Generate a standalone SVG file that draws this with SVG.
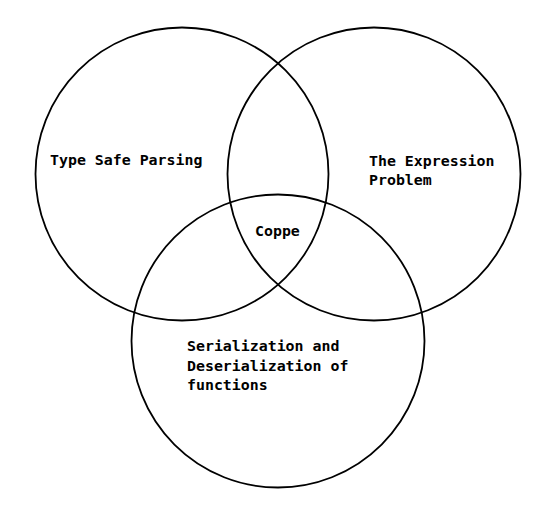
<svg xmlns="http://www.w3.org/2000/svg" width="559" height="512" viewBox="0 0 559 512">
<style>
.c{fill:none;stroke:#000;stroke-width:1.8}
.t{font-family:"DejaVu Sans Mono","Liberation Mono",monospace;font-size:14.9px;font-weight:bold;fill:#000}
</style>
<rect width="559" height="512" fill="#fff"/>
<g id="circle-left"><circle class="c" cx="182" cy="174" r="146.5"/><text class="t" x="50" y="165">Type Safe Parsing</text></g>
<g id="circle-right"><circle class="c" cx="374" cy="174" r="146.5"/><text class="t" x="369" y="166">The Expression</text><text class="t" x="369" y="185">Problem</text></g>
<g id="circle-bottom"><circle class="c" cx="278" cy="341" r="146.5"/><text class="t" x="187" y="351">Serialization and</text><text class="t" x="187" y="371">Deserialization of</text><text class="t" x="187" y="390">functions</text></g>
<g id="center"><text class="t" x="255" y="236">Coppe</text></g>
<g id="connectors"></g>
</svg>
